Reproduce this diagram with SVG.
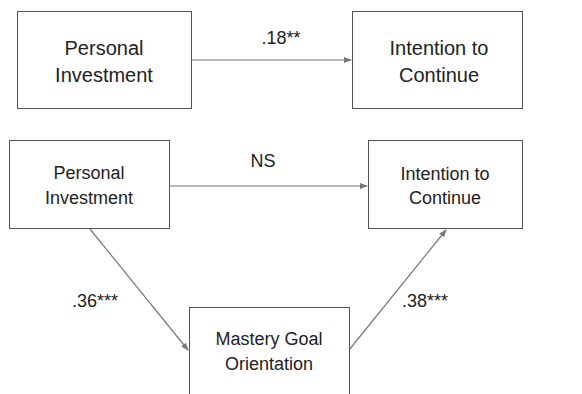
<svg xmlns="http://www.w3.org/2000/svg" width="582" height="394" viewBox="0 0 582 394">
<style>
.box{fill:#fff;stroke:#555;stroke-width:1}
.t{font-family:"Liberation Sans",Arial,sans-serif;fill:#222;text-anchor:middle}
.big{font-size:20px}
.sm{font-size:18px}
.c{stroke:#777;stroke-width:1.2;fill:none;marker-end:url(#ah)}
</style>
<defs>
<marker id="ah" markerWidth="8" markerHeight="8" refX="7" refY="3" orient="auto" markerUnits="userSpaceOnUse">
<path d="M0,0 L8,3 L0,6 Z" fill="#777"/>
</marker>
</defs>
<rect width="582" height="394" fill="#fff"/>
<g id="connectors">
<line class="c" x1="192" y1="60" x2="351" y2="60"/>
<line class="c" x1="169" y1="186" x2="367" y2="186"/>
<line class="c" x1="90" y1="229" x2="188" y2="350"/>
<line class="c" x1="349" y1="350" x2="446" y2="230"/>
</g>
<g id="labels">
<text class="t sm" x="281" y="44">.18**</text>
<text class="t sm" x="263" y="167">NS</text>
<text class="t sm" x="95" y="307">.36***</text>
<text class="t sm" x="425" y="307">.38***</text>
</g>
<g id="pi1">
<rect class="box" x="17.5" y="11.5" width="174" height="97"/>
<text class="t big" x="104" y="55">Personal</text>
<text class="t big" x="104" y="82">Investment</text>
</g>
<g id="ic1">
<rect class="box" x="352.5" y="11.5" width="170" height="97"/>
<text class="t big" x="439" y="55">Intention to</text>
<text class="t big" x="439" y="82">Continue</text>
</g>
<g id="pi2">
<rect class="box" x="9.5" y="140.5" width="160" height="88"/>
<text class="t sm" x="89" y="179">Personal</text>
<text class="t sm" x="89" y="204">Investment</text>
</g>
<g id="ic2">
<rect class="box" x="368.5" y="140.5" width="154" height="88"/>
<text class="t sm" x="445" y="180">Intention to</text>
<text class="t sm" x="445" y="204">Continue</text>
</g>
<g id="mgo">
<rect class="box" x="189.5" y="307.5" width="160" height="100"/>
<text class="t sm" x="269" y="345">Mastery Goal</text>
<text class="t sm" x="269" y="370">Orientation</text>
</g>
</svg>
